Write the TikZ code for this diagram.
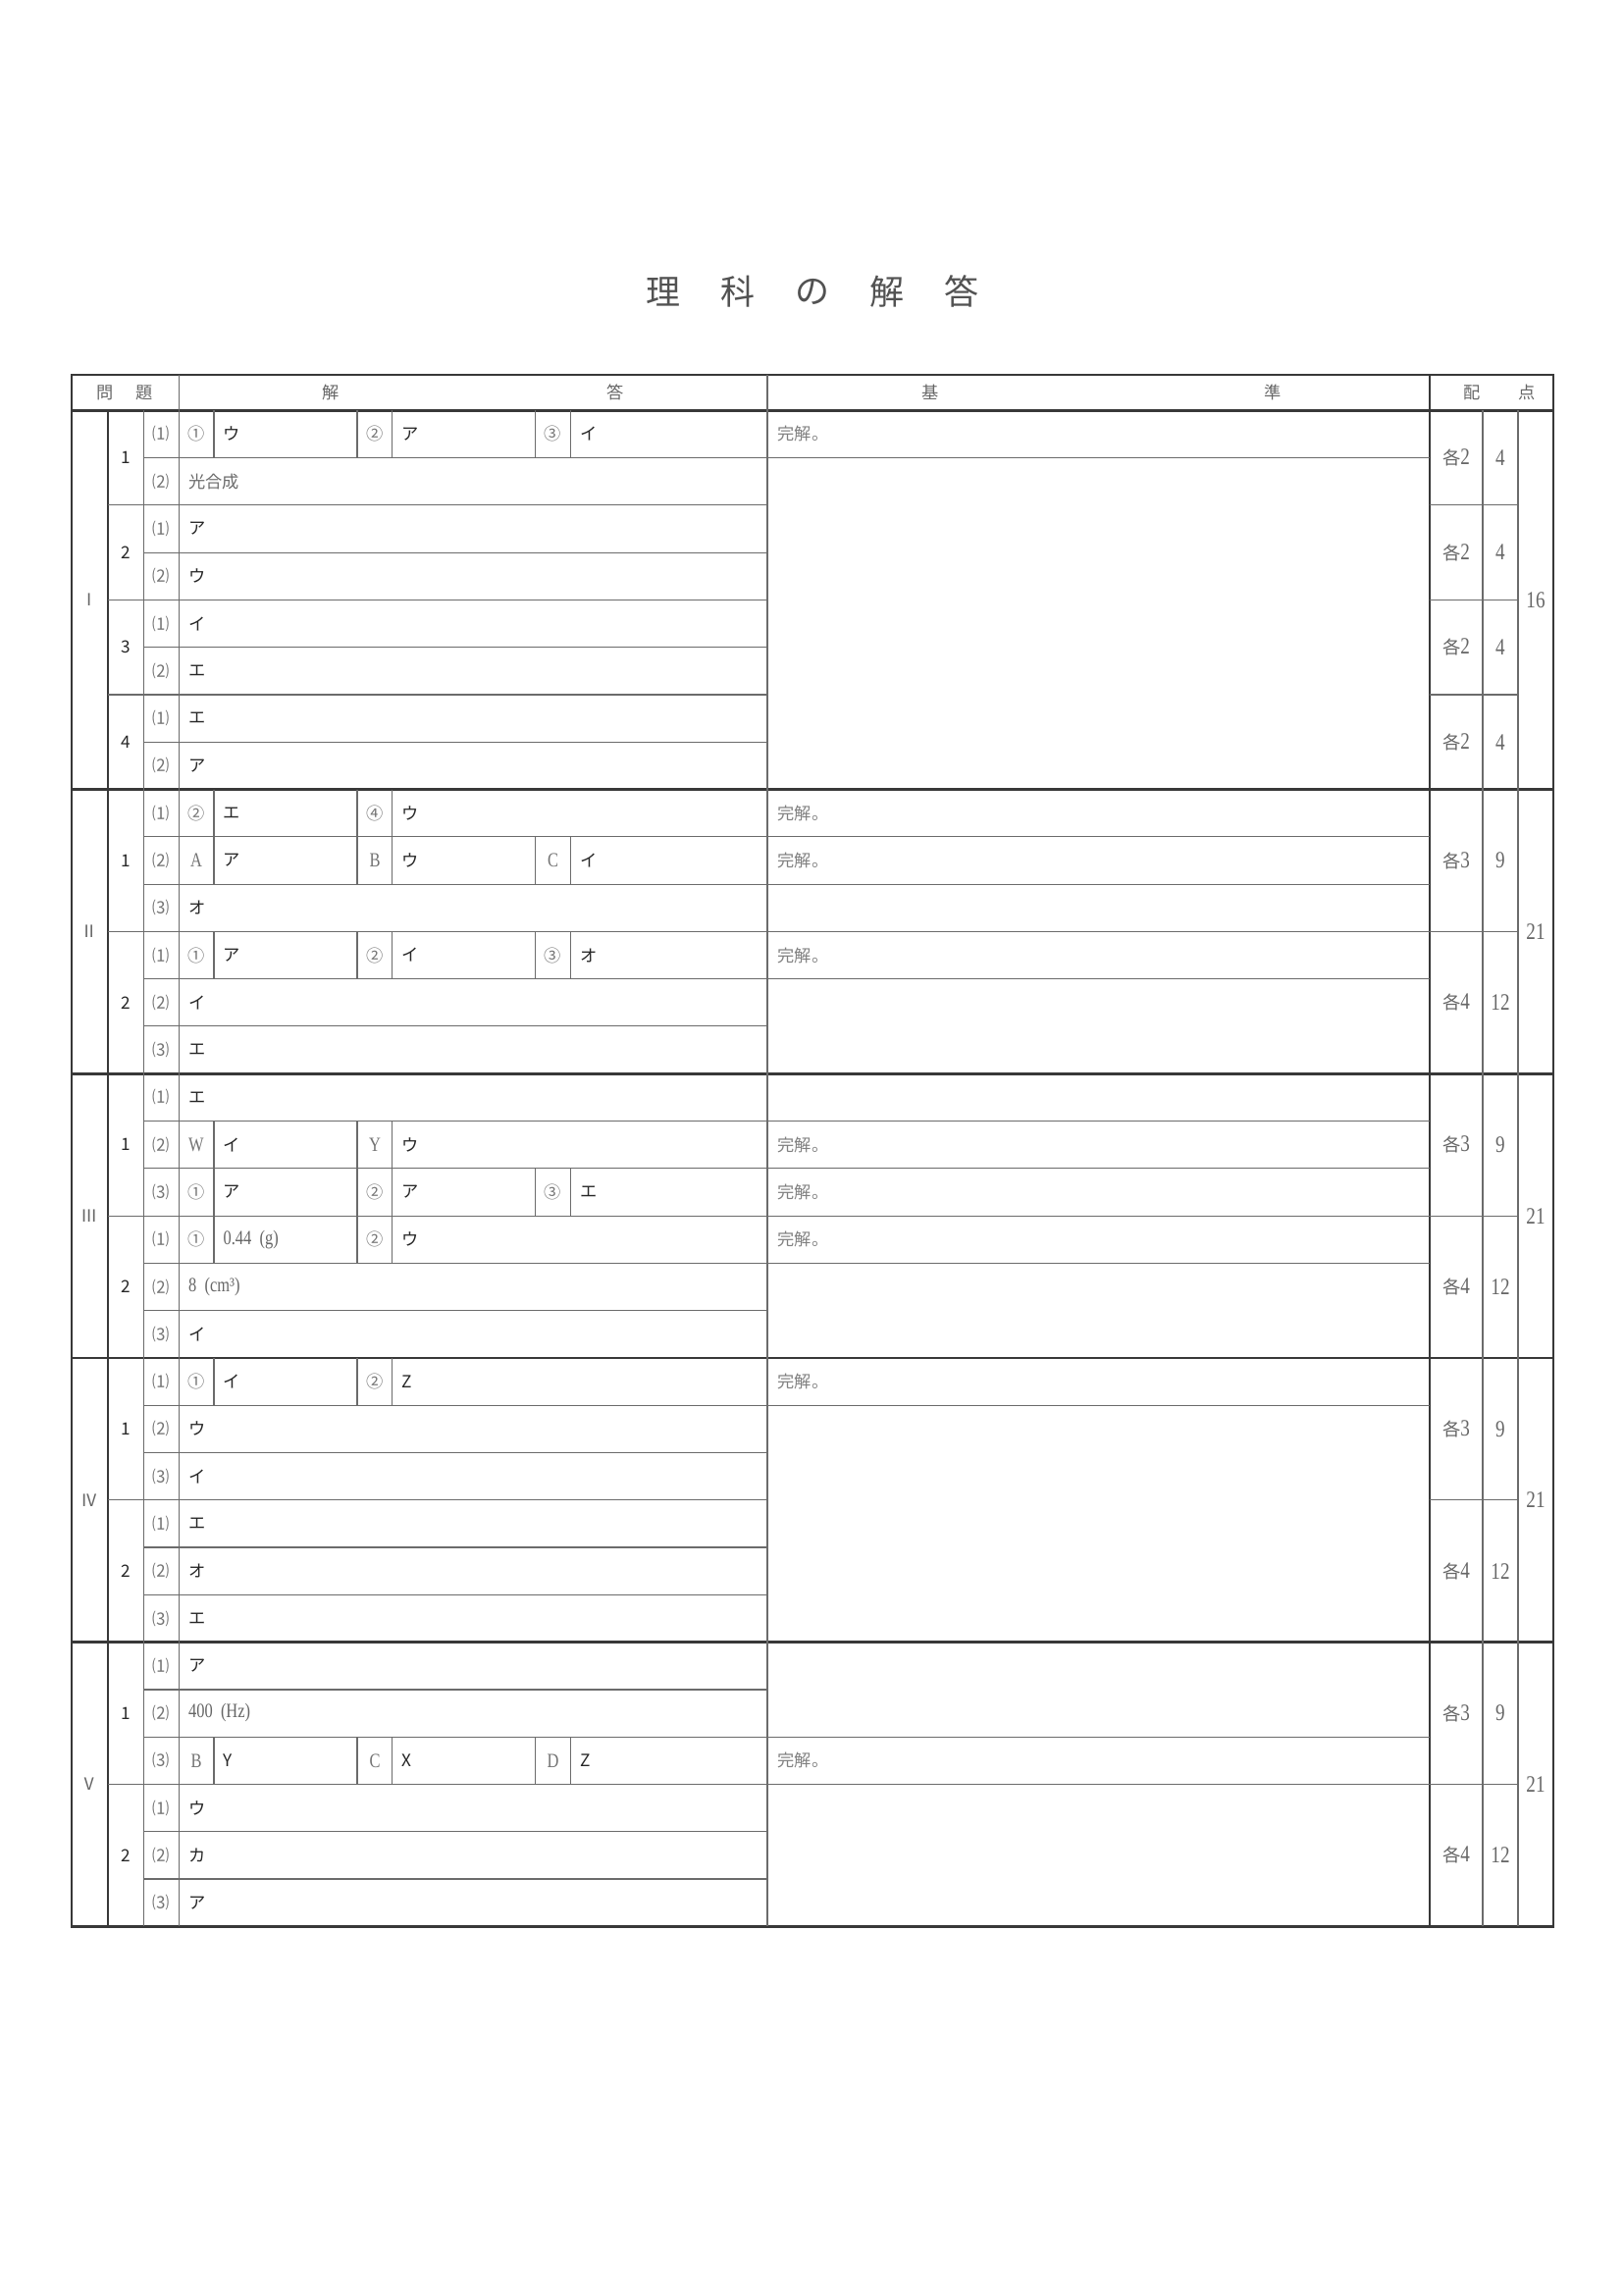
\documentclass[tikz,border=0pt]{standalone}
\usepackage{fontspec}
\setmainfont{Liberation Serif}
\newfontfamily\jpfont{Noto Sans CJK JP}
\newfontfamily\numfont{Liberation Serif}[FakeStretch=0.8]
\newcommand\jpsz{\fontsize{6.2pt}{7pt}\selectfont}
\newcommand\numsz{\fontsize{7.4pt}{8pt}\selectfont}
\newcommand\ptsz{\fontsize{8.6pt}{9pt}\selectfont}
\newcommand\kaku[1]{{\jpfont\fontsize{6.6pt}{7pt}\selectfont 各}{\numfont\ptsz #1}}

\tikzset{every picture/.style={line width=0.45pt},
	thin rule/.style={draw=black!58, line width=0.42pt},
	thick rule/.style={draw=black!78, line width=1pt},
	sublab/.style={inner sep=0pt, font=\jpfont\jpsz, text=black!55},
	marklab/.style={inner sep=0pt, font=\jpfont\jpsz, text=black!55},
	letlab/.style={inner sep=0pt, font=\numfont\numsz, text=black!55},
	kana/.style={anchor=west, inner sep=0pt, font=\jpfont\jpsz, text=black!85},
	serifans/.style={anchor=west, inner sep=0pt, font=\numfont\numsz, text=black!60},
	minans/.style={anchor=west, inner sep=0pt, font=\jpfont\jpsz, text=black!58},
	crit/.style={anchor=west, inner sep=0pt, font=\jpfont\jpsz, text=black!50},
	qnum/.style={inner sep=0pt, font=\jpfont\jpsz, text=black!85},
	roman/.style={inner sep=0pt, font=\jpfont\jpsz, text=black!60},
	headlab/.style={inner sep=0pt, font=\jpfont\fontsize{6.2pt}{7pt}\selectfont, text=black!60},
	score/.style={inner sep=0pt, font=\numfont\ptsz, text=black!60},
	titlech/.style={inner sep=0pt, font=\jpfont\fontsize{12.6pt}{14pt}\selectfont, text=black!68}
}

\begin{document}
\begin{tikzpicture}[x=0.36pt,y=0.36pt,yscale=-1]
	\useasboundingbox (0,0) rectangle (1654,2340);
	
	% Title
	\foreach \ch [count=\i] in {理,科,の,解,答}
		\node[titlech] (title\i) at ({676+76*(\i-1)},297) {\ch};
	
	%Straight Lines: frame and heavy rules
	\draw[thick rule] (73,382) rectangle (1583,1963.3);
	\draw[thick rule] (73,418.3) -- (1583,418.3);
	\foreach \yy in {804.5,1094.2,1383.9,1673.6}
		\draw[thick rule] (73,\yy) -- (1583,\yy);
	\draw[thick rule] (110,418.3) -- (110,1963.3);
	\draw[thick rule] (1457,382) -- (1457,1963.3);
	
	%Straight Lines: thin columns
	\draw[thin rule] (146.5,418.3) -- (146.5,1963.3);
	\draw[thin rule] (182.5,382) -- (182.5,1963.3);
	\draw[thin rule] (782,382) -- (782,1963.3);
	\draw[thin rule] (1511,418.3) -- (1511,1963.3);
	\draw[thin rule] (1547,418.3) -- (1547,1963.3);
	
	%Straight Lines: between questions
	\foreach \yy in {514.9,611.4,708.0,949.4,1239.1,1528.7,1818.4}{
		\draw[thin rule] (110,\yy) -- (782,\yy);
		\draw[thin rule] (1457,\yy) -- (1547,\yy);
	}
	%Straight Lines: between sub-questions
	\foreach \yy in {466.6,563.1,659.7,756.3,852.8,901.1,997.7,1045.9,1142.5,1190.8,1287.3,1335.6,1432.2,1480.5,1577.0,1625.3,1721.9,1770.1,1866.7,1915.0}
		\draw[thin rule] (146.5,\yy) -- (782,\yy);
	%Straight Lines: criteria column
	\foreach \yy in {466.6,852.8,901.1,949.4,997.7,1142.5,1190.8,1239.1,1287.3,1432.2,1770.1,1818.4}
		\draw[thin rule] (782,\yy) -- (1457,\yy);
	%Straight Lines: small boxes
	\foreach \ya/\yb in {418.3/466.6,852.8/901.1,949.4/997.7,1190.8/1239.1,1770.1/1818.4}
		\foreach \xx in {218,364,399.5,545.5,581.5}
			\draw[thin rule] (\xx,\ya) -- (\xx,\yb);
	\foreach \ya/\yb in {804.5/852.8,1142.5/1190.8,1239.1/1287.3,1383.9/1432.2}
		\foreach \xx in {218,364,399.5}
			\draw[thin rule] (\xx,\ya) -- (\xx,\yb);
	
	% Text Node: header
	\node[headlab] (hmon) at (107,400) {問};
	\node[headlab] (hdai) at (147.5,400) {題};
	\node[headlab] (hkai) at (337,400) {解};
	\node[headlab] (hto) at (627,400) {答};
	\node[headlab] (hki) at (948,400) {基};
	\node[headlab] (hjun) at (1297,400) {準};
	\node[headlab] (hhai) at (1500,400) {配};
	\node[headlab] (hten) at (1556,400) {点};
	
	% Text Node: roman numerals and question numbers
	\node[roman] (r1) at (91.5,611.4) {Ⅰ};
	\node[roman] (r2) at (91.5,949.4) {Ⅱ};
	\node[roman] (r3) at (91.5,1239.1) {Ⅲ};
	\node[roman] (r4) at (91.5,1528.7) {Ⅳ};
	\node[roman] (r5) at (91.5,1818.4) {Ⅴ};
	\node[qnum] (q11) at (128,466.6) {1};
	\node[qnum] (q12) at (128,563.1) {2};
	\node[qnum] (q13) at (128,659.7) {3};
	\node[qnum] (q14) at (128,756.3) {4};
	\node[qnum] (q21) at (128,876.9) {1};
	\node[qnum] (q22) at (128,1021.8) {2};
	\node[qnum] (q31) at (128,1166.6) {1};
	\node[qnum] (q32) at (128,1311.5) {2};
	\node[qnum] (q41) at (128,1456.3) {1};
	\node[qnum] (q42) at (128,1601.1) {2};
	\node[qnum] (q51) at (128,1746.0) {1};
	\node[qnum] (q52) at (128,1890.8) {2};
	
	% Text Node: I
	\node[sublab] (s0) at (164.5,442.4) {⑴};
	\node[marklab] (m0a) at (200,442.4) {①}; \node[kana] (a0a) at (227,442.4) {ウ};
	\node[marklab] (m0b) at (382,442.4) {②}; \node[kana] (a0b) at (408.5,442.4) {ア};
	\node[marklab] (m0c) at (563.5,442.4) {③}; \node[kana] (a0c) at (590.5,442.4) {イ};
	\node[crit] (c0) at (792,442.4) {完解。};
	\node[sublab] (s1) at (164.5,490.7) {⑵}; \node[minans] (a1) at (191.5,490.7) {光合成};
	\node[sublab] (s2) at (164.5,539.0) {⑴}; \node[kana] (a2) at (191.5,539.0) {ア};
	\node[sublab] (s3) at (164.5,587.3) {⑵}; \node[kana] (a3) at (191.5,587.3) {ウ};
	\node[sublab] (s4) at (164.5,635.6) {⑴}; \node[kana] (a4) at (191.5,635.6) {イ};
	\node[sublab] (s5) at (164.5,683.8) {⑵}; \node[kana] (a5) at (191.5,683.8) {エ};
	\node[sublab] (s6) at (164.5,732.1) {⑴}; \node[kana] (a6) at (191.5,732.1) {エ};
	\node[sublab] (s7) at (164.5,780.4) {⑵}; \node[kana] (a7) at (191.5,780.4) {ア};
	
	% Text Node: II
	\node[sublab] (s8) at (164.5,828.7) {⑴};
	\node[marklab] (m8a) at (200,828.7) {②}; \node[kana] (a8a) at (227,828.7) {エ};
	\node[marklab] (m8b) at (382,828.7) {④}; \node[kana] (a8b) at (408.5,828.7) {ウ};
	\node[crit] (c8) at (792,828.7) {完解。};
	\node[sublab] (s9) at (164.5,877.0) {⑵};
	\node[letlab] (m9a) at (200,877.0) {A}; \node[kana] (a9a) at (227,877.0) {ア};
	\node[letlab] (m9b) at (382,877.0) {B}; \node[kana] (a9b) at (408.5,877.0) {ウ};
	\node[letlab] (m9c) at (563.5,877.0) {C}; \node[kana] (a9c) at (590.5,877.0) {イ};
	\node[crit] (c9) at (792,877.0) {完解。};
	\node[sublab] (s10) at (164.5,925.3) {⑶}; \node[kana] (a10) at (191.5,925.3) {オ};
	\node[sublab] (s11) at (164.5,973.5) {⑴};
	\node[marklab] (m11a) at (200,973.5) {①}; \node[kana] (a11a) at (227,973.5) {ア};
	\node[marklab] (m11b) at (382,973.5) {②}; \node[kana] (a11b) at (408.5,973.5) {イ};
	\node[marklab] (m11c) at (563.5,973.5) {③}; \node[kana] (a11c) at (590.5,973.5) {オ};
	\node[crit] (c11) at (792,973.5) {完解。};
	\node[sublab] (s12) at (164.5,1021.8) {⑵}; \node[kana] (a12) at (191.5,1021.8) {イ};
	\node[sublab] (s13) at (164.5,1070.1) {⑶}; \node[kana] (a13) at (191.5,1070.1) {エ};
	
	% Text Node: III
	\node[sublab] (s14) at (164.5,1118.4) {⑴}; \node[kana] (a14) at (191.5,1118.4) {エ};
	\node[sublab] (s15) at (164.5,1166.7) {⑵};
	\node[letlab] (m15a) at (200,1166.7) {W}; \node[kana] (a15a) at (227,1166.7) {イ};
	\node[letlab] (m15b) at (382,1166.7) {Y}; \node[kana] (a15b) at (408.5,1166.7) {ウ};
	\node[crit] (c15) at (792,1166.7) {完解。};
	\node[sublab] (s16) at (164.5,1214.9) {⑶};
	\node[marklab] (m16a) at (200,1214.9) {①}; \node[kana] (a16a) at (227,1214.9) {ア};
	\node[marklab] (m16b) at (382,1214.9) {②}; \node[kana] (a16b) at (408.5,1214.9) {ア};
	\node[marklab] (m16c) at (563.5,1214.9) {③}; \node[kana] (a16c) at (590.5,1214.9) {エ};
	\node[crit] (c16) at (792,1214.9) {完解。};
	\node[sublab] (s17) at (164.5,1263.2) {⑴};
	\node[marklab] (m17a) at (200,1263.2) {①}; \node[serifans] (a17a) at (227,1263.2) {0.44\ \ (g)};
	\node[marklab] (m17b) at (382,1263.2) {②}; \node[kana] (a17b) at (408.5,1263.2) {ウ};
	\node[crit] (c17) at (792,1263.2) {完解。};
	\node[sublab] (s18) at (164.5,1311.5) {⑵}; \node[serifans] (a18) at (191.5,1311.5) {8\ \ (cm³)};
	\node[sublab] (s19) at (164.5,1359.8) {⑶}; \node[kana] (a19) at (191.5,1359.8) {イ};
	
	% Text Node: IV
	\node[sublab] (s20) at (164.5,1408.1) {⑴};
	\node[marklab] (m20a) at (200,1408.1) {①}; \node[kana] (a20a) at (227,1408.1) {イ};
	\node[marklab] (m20b) at (382,1408.1) {②}; \node[kana] (a20b) at (408.5,1408.1) {Z};
	\node[crit] (c20) at (792,1408.1) {完解。};
	\node[sublab] (s21) at (164.5,1456.3) {⑵}; \node[kana] (a21) at (191.5,1456.3) {ウ};
	\node[sublab] (s22) at (164.5,1504.6) {⑶}; \node[kana] (a22) at (191.5,1504.6) {イ};
	\node[sublab] (s23) at (164.5,1552.9) {⑴}; \node[kana] (a23) at (191.5,1552.9) {エ};
	\node[sublab] (s24) at (164.5,1601.2) {⑵}; \node[kana] (a24) at (191.5,1601.2) {オ};
	\node[sublab] (s25) at (164.5,1649.5) {⑶}; \node[kana] (a25) at (191.5,1649.5) {エ};
	
	% Text Node: V
	\node[sublab] (s26) at (164.5,1697.7) {⑴}; \node[kana] (a26) at (191.5,1697.7) {ア};
	\node[sublab] (s27) at (164.5,1746.0) {⑵}; \node[serifans] (a27) at (191.5,1746.0) {400\ \ (Hz)};
	\node[sublab] (s28) at (164.5,1794.3) {⑶};
	\node[letlab] (m28a) at (200,1794.3) {B}; \node[kana] (a28a) at (227,1794.3) {Y};
	\node[letlab] (m28b) at (382,1794.3) {C}; \node[kana] (a28b) at (408.5,1794.3) {X};
	\node[letlab] (m28c) at (563.5,1794.3) {D}; \node[kana] (a28c) at (590.5,1794.3) {Z};
	\node[crit] (c28) at (792,1794.3) {完解。};
	\node[sublab] (s29) at (164.5,1842.6) {⑴}; \node[kana] (a29) at (191.5,1842.6) {ウ};
	\node[sublab] (s30) at (164.5,1890.9) {⑵}; \node[kana] (a30) at (191.5,1890.9) {カ};
	\node[sublab] (s31) at (164.5,1939.1) {⑶}; \node[kana] (a31) at (191.5,1939.1) {ア};
	
	% Text Node: points
	\node[score] (p11) at (1484,466.6) {\kaku{2}}; \node[score] (t11) at (1529,466.6) {4};
	\node[score] (p12) at (1484,563.1) {\kaku{2}}; \node[score] (t12) at (1529,563.1) {4};
	\node[score] (p13) at (1484,659.7) {\kaku{2}}; \node[score] (t13) at (1529,659.7) {4};
	\node[score] (p14) at (1484,756.3) {\kaku{2}}; \node[score] (t14) at (1529,756.3) {4};
	\node[score] (tot1) at (1565,611.4) {16};
	\node[score] (p21) at (1484,876.9) {\kaku{3}}; \node[score] (t21) at (1529,876.9) {9};
	\node[score] (p22) at (1484,1021.8) {\kaku{4}}; \node[score] (t22) at (1529,1021.8) {12};
	\node[score] (tot2) at (1565,949.4) {21};
	\node[score] (p31) at (1484,1166.6) {\kaku{3}}; \node[score] (t31) at (1529,1166.6) {9};
	\node[score] (p32) at (1484,1311.5) {\kaku{4}}; \node[score] (t32) at (1529,1311.5) {12};
	\node[score] (tot3) at (1565,1239.1) {21};
	\node[score] (p41) at (1484,1456.3) {\kaku{3}}; \node[score] (t41) at (1529,1456.3) {9};
	\node[score] (p42) at (1484,1601.1) {\kaku{4}}; \node[score] (t42) at (1529,1601.1) {12};
	\node[score] (tot4) at (1565,1528.7) {21};
	\node[score] (p51) at (1484,1746.0) {\kaku{3}}; \node[score] (t51) at (1529,1746.0) {9};
	\node[score] (p52) at (1484,1890.8) {\kaku{4}}; \node[score] (t52) at (1529,1890.8) {12};
	\node[score] (tot5) at (1565,1818.4) {21};
	
\end{tikzpicture}
\end{document}
